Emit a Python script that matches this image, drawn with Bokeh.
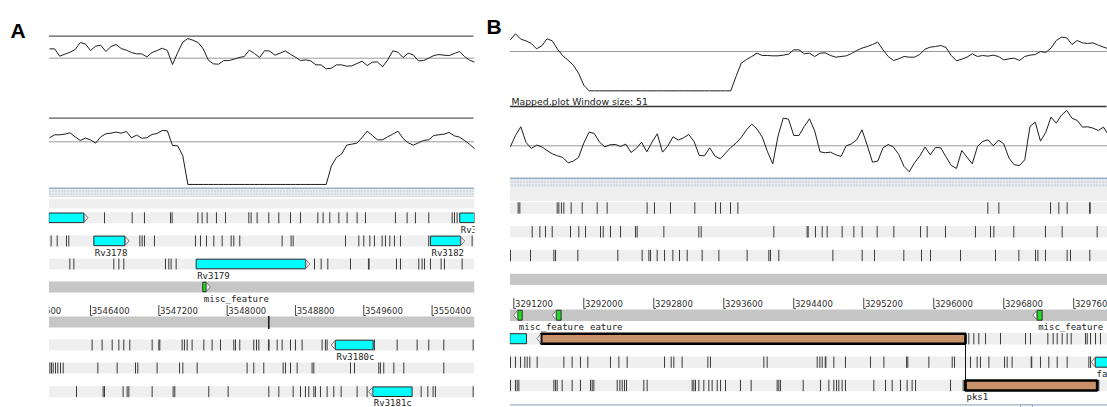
import numpy as np
from bokeh.plotting import figure
from bokeh.models import Range1d
from bokeh.embed import file_html
from bokeh.resources import INLINE
from bokeh.core.properties import value

# ======================= DATA =======================
# ---- Panel A: sliding-window plots (score units), window step 60 bp ----
A_window_start = 3545920
A_window_step = 60
A_gc_score = [28, 28, 6, 12, 18, 26, 47, 43, 23, 36, 39, 20, 35, 41, 29, 24, 17, 13, 13, 4,
              17, 23, 30, 23, -19, 16, 48, 59, 54, 47, 28, -6, -17, -18, -7, -7, -3, 2, 5, 24,
              14, 2, 23, 21, 9, 15, 22, 12, 3, -7, -5, -8, -20, -20, -32, -30, -20, -20, -24, -23,
              -16, -9, -22, -12, -11, -26, -5, 22, 18, 2, 15, 10, -8, -7, 0, 8, 11, 9, 8, 14,
              20, 5, -6, -12]
A_mapped_score = [12, 21, 21, 23, 27, 15, 4, 11, 6, -4, 15, 24, 26, 29, 26, 31, 12, 20, 11, 12,
                  22, 25, 34, 33, -11, -12, -41,
                  -128, -128, -128, -128, -128, -128, -128, -128, -128, -128, -128, -128, -128, -128,
                  -128, -128, -128, -128, -128, -128, -128, -128, -128, -128, -128, -128, -128, -128,
                  -73, -47, -37, -10, -7, -4, 13, 32, 19, 6, 6, 15, 23, 32, 10, -3, -10, -3, 4, 6,
                  19, 21, 23, 28, 18, 14, 4, -8, -21]

# ---- Panel B: sliding-window plots, window step 60 bp ----
B_window_start = 3291160
B_window_step = 60
B_gc_score = [35, 53, 37, 32, 24, 8, 17, 38, 32, 7, -13, -26, -41, -65, -101,
              -118, -118, -118, -118, -118, -118, -118, -118, -118, -118, -118, -118, -118, -118,
              -118, -118, -118, -118, -118, -118, -118, -118, -118, -118, -118, -118, -118, -118,
              -75, -35, -24, -15, -5, -12, -12, -13, -13, -11, -8, 5, 5,
              -7, -5, -15, -5, -4, -12, -17, -15, -13, -6, 3, 10, 15, 21, 28, 5, -15, -27, -22, -15,
              -17, -17, -9, 7, 13, 15, 18, 12, -12, -28, -23, -17, -7, -15, -12, -14, -11, -15, -25, -22,
              -20, -27, -15, -11, -9, 0, -3, 10, 33, 43, 41, 21, 33, 26, 24, 26, 19, 13, 8]
B_mapped_score = [-3, 31, 57, 10, -8, 2, -3, -14, -24, -30, -35, -51, -46, -35, 8, 41, 37, 11, -3, 3,
                  4, -2, 5, -20, -8, 11, -18, 11, 36, -19, -1, 27, 17, 24, 34, 13, -29, -30, -6, -31,
                  -39, -22, -5, 8, 25, 48, 65, 50, 26, -18, -54, 29, 83, 80, 31, 31,
                  58, 81, 44, -18, -21, -19, -27, -32, 0, 6, 18, 48, 1, -49, -46, -6, 4, -4, -26, -62,
                  -78, -51, -31, -4, -27, -5, -6, -33, -59, -68, -14, -34, -54, -2, 13, 18, 0, 17, 6, -37,
                  -57, -59, -42, 58, 71, 14, 40, 86, 68, 92, 106, 83, 76, 56, 57, 53, 46, 56, 31]

# ---- scale ticks ----
A_scale_ticks = [3545600, 3546400, 3547200, 3548000, 3548800, 3549600, 3550400]
B_scale_ticks = [3291200, 3292000, 3292800, 3293600, 3294400, 3295200, 3296000, 3296800, 3297600]

# ---- stop codons per frame ----
A_stops_f1 = [3546564, 3546888, 3547032, 3547337, 3547356, 3547657, 3547707, 3547766, 3547875, 3547981,
              3548254, 3548281, 3548351, 3548488, 3548605, 3548742, 3548859, 3549062, 3549124, 3549202,
              3549308, 3549405, 3549522, 3549620, 3549971, 3550108, 3550205, 3550361, 3550635, 3550662,
              3550693]
A_stops_f2 = [3545939, 3546010, 3546119, 3546146, 3546978, 3547005, 3547032, 3547149, 3547629, 3547688,
              3547758, 3547844, 3547942, 3548047, 3548078, 3548148, 3548644, 3548749, 3548773, 3549386,
              3549542, 3549600, 3549671, 3549725, 3549815, 3549854, 3549905, 3549959, 3550030, 3550361,
              3550869]
A_stops_f3 = [3546158, 3546205, 3546673, 3546732, 3546790, 3547278, 3547317, 3547344, 3547403, 3549023,
              3549101, 3549179, 3549444, 3549655, 3549662, 3549983, 3550030, 3550244, 3550283, 3550311,
              3550381, 3550506, 3550545, 3550752]
A_stops_r1 = [3546419, 3546536, 3546654, 3546732, 3546790, 3546860, 3547122, 3547200, 3547212, 3547473,
              3547500, 3547532, 3547590, 3547727, 3547824, 3547922, 3548078, 3548098, 3548148, 3548312,
              3548344, 3548371, 3548484, 3548491, 3548586, 3548644, 3548742, 3548800, 3548878, 3549112,
              3549151, 3549171, 3549725, 3549991, 3550225, 3550361, 3550537, 3550881]
A_stops_r2 = [3545924, 3545943, 3545963, 3545990, 3546017, 3546049, 3546080, 3546486, 3546712, 3546927,
              3546954, 3547180, 3547442, 3547481, 3547649, 3548234, 3548312, 3548429, 3548656, 3548683,
              3548742, 3548820, 3548995, 3549015, 3549444, 3549491, 3549776, 3549795, 3549834, 3549952,
              3550069, 3550537]
A_stops_r3 = [3546236, 3546548, 3546564, 3546782, 3546829, 3546849, 3547122, 3547368, 3547387, 3547785,
              3548012, 3548488, 3548605, 3548773, 3548859, 3548917, 3548956, 3549015, 3549034, 3549093,
              3549171, 3549249, 3549335, 3549522, 3549639, 3550272, 3550350, 3550412, 3550439, 3550881]
A_marks_rev_strand = [3548486, 3548490]

B_stops_f1 = [3291250, 3291269, 3291696, 3291715, 3291745, 3291772, 3291856, 3291982, 3292153, 3292267,
              3292724, 3292808, 3292991, 3293269, 3293506, 3293563, 3293677, 3293761, 3296618, 3296744,
              3297335, 3297430, 3297525, 3297781, 3297788]
B_stops_f2 = [3291410, 3291498, 3291562, 3291639, 3291848, 3291943, 3292020, 3292191, 3292222, 3292305,
              3292420, 3292591, 3292610, 3292915, 3293315, 3293342, 3294172, 3294553, 3294565, 3294648,
              3294725, 3294782, 3294953, 3295087, 3295182, 3295353, 3295544, 3295849, 3295925, 3296134,
              3296477, 3296649, 3296687, 3296915, 3297277, 3297468, 3297868]
B_stops_f3 = [3291162, 3291391, 3291658, 3291677, 3291932, 3292389, 3292667, 3292744, 3292763, 3292839,
              3292923, 3293018, 3293094, 3293182, 3293353, 3293544, 3293867, 3294115, 3294134, 3294229,
              3294847, 3295182, 3295323, 3295658, 3295860, 3295963, 3296306, 3296706, 3296973, 3297163,
              3297190, 3297277, 3297525, 3297563, 3297784]
B_stops_r1 = [3296401, 3296458, 3296515, 3296592, 3296763, 3297049, 3297106, 3297304, 3297365, 3297411,
              3297468, 3297525, 3297571, 3297735, 3297754, 3297792, 3297849, 3297906]
B_stops_r2 = [3291162, 3291219, 3291277, 3291326, 3291353, 3291383, 3291467, 3291772, 3291867, 3291962,
              3292046, 3292305, 3292401, 3292496, 3292923, 3292999, 3293029, 3293124, 3293418, 3293448,
              3294058, 3294096, 3294668, 3294698, 3294725, 3294760, 3294767, 3294858, 3294991, 3295277,
              3295430, 3295689, 3295704, 3295944, 3296211, 3296237, 3296420, 3296496, 3296534, 3296630,
              3296809, 3296839, 3296896, 3297114, 3297120, 3297220, 3297315, 3297411, 3297525, 3297773,
              3297792]
B_stops_r3 = [3291162, 3291219, 3291239, 3291258, 3291658, 3291677, 3291696, 3291753, 3291867, 3291962,
              3292077, 3292096, 3292115, 3292382, 3292412, 3292439, 3292465, 3292488, 3292686, 3292724,
              3293239, 3293258, 3293277, 3293315, 3293372, 3293429, 3293467, 3293525, 3293563, 3293620,
              3293791, 3293913, 3294210, 3294229, 3294248, 3294508, 3294706, 3294801, 3294858, 3294889,
              3294915, 3294953, 3294991, 3295315, 3295449, 3295525, 3295620, 3295696, 3295753, 3295792,
              3296192, 3296336, 3296352, 3297887]

# ---- features ----
A_feat_name = ["Rv3177", "Rv3183", "Rv3178", "Rv3182", "Rv3179", "misc_feature", "Rv3180c", "Rv3181c"]
A_feat_row = ["f1", "f1", "f2", "f2", "f3", "fs", "r1", "r3"]
A_feat_start = [3545300, 3550724, 3546439, 3550381, 3547637, 3547715, 3549269, 3549706]
A_feat_end = [3546322, 3551300, 3546802, 3550732, 3548917, 3547754, 3549710, 3550166]
A_feat_strand = [1, 1, 1, 1, 1, 1, -1, -1]
A_feat_kind = ["cds", "cds", "cds", "cds", "cds", "misc", "cds", "cds"]
A_feat_labelled = [True, True, True, True, True, True, True, True]

B_feat_name = ["misc_feature", "misc_feature", "misc_feature", "Rv2945c", "pks1", "pks1", "fadD22"]
B_feat_row = ["rs", "rs", "rs", "r1", "r1", "r3", "r2"]
B_feat_start = [3291688, 3291246, 3297182, 3290700, 3291513, 3296363, 3297849]
B_feat_end = [3291741, 3291296, 3297239, 3291345, 3296363, 3297868, 3299000]
B_feat_strand = [-1, -1, -1, -1, -1, 0, -1]
B_feat_kind = ["misc", "misc", "misc", "cds", "pks", "pks", "cds"]
B_feat_labelled = [True, True, True, True, False, True, True]
B_join_pos = [3296363]

# ======================= LAYOUT =======================
W, H = 1107, 407
PANELS = {
    "A": dict(x0=48.3, x1=474.0, ref_px=90.0, ref_bp=3546400, bpp=11.71, row_h=11.0,
              rows=dict(f1=211.8, f2=234.9, f3=258.0, fs=281.0, rs=316.0, r1=339.0, r2=362.0, r3=385.7),
              scale_y=310.0, bar=(304.5, 315.0), sep=187.7, grey=(198.5, 208.0)),
    "B": dict(x0=509.3, x1=1107.0, ref_px=513.3, ref_bp=3291200, bpp=11.43, row_h=11.4,
              rows=dict(f1=201.8, f2=225.6, f3=249.3, fs=273.2, rs=309.0, r1=332.5, r2=356.0, r3=379.3),
              scale_y=303.3, bar=(297.5, 308.0), sep=177.7, grey=(186.0, 200.5)),
}

def bp_at(pk, px):
    g = PANELS[pk]
    return g["ref_bp"] + (px - g["ref_px"]) * g["bpp"]

def window(pk):
    return bp_at(pk, PANELS[pk]["x0"]), bp_at(pk, PANELS[pk]["x1"])

def vrange(mid, upp=3.0):
    return Range1d((mid - H) * upp, mid * upp)

p = figure(width=W, height=H, x_range=Range1d(0, W), y_range=Range1d(H, 0),
           output_backend="svg", toolbar_location=None, min_border=0,
           x_axis_location=None, y_axis_location=None,
           background_fill_color="white", border_fill_color="white")
p.grid.visible = False
p.outline_line_color = None
p.extra_x_ranges = {pk: Range1d(bp_at(pk, 0), bp_at(pk, W)) for pk in PANELS}
p.extra_y_ranges = {"a1": vrange(57.7), "a2": vrange(141.3), "b1": vrange(51.0), "b2": vrange(145.3)}

TICK = "#3a3a3a"
CURVE = "#1e1e1e"

# ---- curve tracks ----
tracks = [
    ("A", "a1", A_window_start, A_window_step, A_gc_score, 57.7, 35.7, "#5a5a5a"),
    ("A", "a2", A_window_start, A_window_step, A_mapped_score, 141.3, 117.7, "#5a5a5a"),
    ("B", "b1", B_window_start, B_window_step, B_gc_score, 51.0, None, None),
    ("B", "b2", B_window_start, B_window_step, B_mapped_score, 145.3, 106.0, "#333333"),
]
for pk, yr, st, step, vals, mid, topline, tcol in tracks:
    g = PANELS[pk]
    if topline is not None:
        p.segment(x0=[g["x0"]], x1=[g["x1"] - 1], y0=[topline], y1=[topline], line_color=tcol, line_width=1.3)
    p.segment(x0=[g["x0"]], x1=[g["x1"]], y0=[mid], y1=[mid], line_color="#9a9a9a", line_width=1)
    pos = st + step * np.arange(len(vals))
    p.line(x=pos, y=vals, x_range_name=pk, y_range_name=yr, line_color=CURVE, line_width=1.0)

p.text(x=[511], y=[101], text=["Mapped.plot  Window size: 51"], text_font=value("DejaVu Sans"),
       text_font_size="9.3px", text_color="#222222", text_baseline="middle", text_align="left")

# ---- separators and bands ----
for pk, g in PANELS.items():
    x0, x1 = g["x0"], g["x1"]
    s = g["sep"]
    p.quad(left=[x0], right=[x1], top=[s + 0.8], bottom=[s + 8.0], fill_color="#e9ecef",
           hatch_pattern="dot", hatch_color="#b9c3cd", hatch_scale=3, line_color=None)
    p.segment(x0=[x0], x1=[x1], y0=[s], y1=[s], line_color="#9cb0c5", line_width=1.6)
    p.segment(x0=[x0], x1=[x1], y0=[s + 8.5], y1=[s + 8.5], line_color="#d2d8de", line_width=1)
    gy = g["grey"]
    p.quad(left=[x0], right=[x1], top=[gy[0]], bottom=[gy[1]], fill_color="#eeeeee", line_color=None)
    for r, top in g["rows"].items():
        col = "#c6c6c6" if r in ("fs", "rs") else "#efefef"
        p.quad(left=[x0], right=[x1], top=[top], bottom=[top + g["row_h"]], fill_color=col, line_color=None)

# ---- stop codons ----
stop_sets = [("A", "f1", A_stops_f1), ("A", "f2", A_stops_f2), ("A", "f3", A_stops_f3),
             ("A", "r1", A_stops_r1), ("A", "r2", A_stops_r2), ("A", "r3", A_stops_r3),
             ("B", "f1", B_stops_f1), ("B", "f2", B_stops_f2), ("B", "f3", B_stops_f3),
             ("B", "r1", B_stops_r1), ("B", "r2", B_stops_r2), ("B", "r3", B_stops_r3)]
for pk, r, stops in stop_sets:
    g = PANELS[pk]
    w0, w1 = window(pk)
    xs = [q for q in stops if w0 <= q <= w1]
    top = g["rows"][r]
    p.segment(x0=xs, x1=xs, y0=top, y1=top + g["row_h"], x_range_name=pk, line_color=TICK, line_width=1)

gA = PANELS["A"]
p.segment(x0=A_marks_rev_strand, x1=A_marks_rev_strand, y0=gA["rows"]["rs"] - 0.5,
          y1=gA["rows"]["rs"] + gA["row_h"] + 1.5, x_range_name="A", line_color="#111111", line_width=1)

# ---- scale ----
for pk, ticks in (("A", A_scale_ticks), ("B", B_scale_ticks)):
    g = PANELS[pk]
    w0, w1 = window(pk)
    tk = [t for t in ticks if (pk == "A" or t >= w0)]
    b0, b1 = g["bar"]
    p.segment(x0=tk, x1=tk, y0=b0, y1=b1, x_range_name=pk, line_color="#444444", line_width=1)
    p.segment(x0=tk, x1=[t + 2 * g["bpp"] for t in tk], y0=b1, y1=b1, x_range_name=pk,
              line_color="#444444", line_width=1)
    p.text(x=[t + 1.2 * g["bpp"] for t in tk], y=g["scale_y"], text=[str(t) for t in tk],
           x_range_name=pk, text_font=value("DejaVu Sans"), text_font_size="8.5px",
           text_color="#303030", text_baseline="middle", text_align="left")

# ---- features ----
STYLE = {
    "cds": dict(fill_color="#00ffff", line_color="#2a2a2a", line_width=1),
    "misc": dict(fill_color="#22dd22", line_color="#2a2a2a", line_width=1),
    "pks": dict(fill_color="#c9926a", line_color="#000000", line_width=2.6),
}
feature_sets = [
    ("A", A_feat_name, A_feat_row, A_feat_start, A_feat_end, A_feat_strand, A_feat_kind, A_feat_labelled),
    ("B", B_feat_name, B_feat_row, B_feat_start, B_feat_end, B_feat_strand, B_feat_kind, B_feat_labelled),
]
for pk, names, rows, starts, ends, strands, kinds, labelled in feature_sets:
    g = PANELS[pk]
    w0, w1 = window(pk)
    bpp = g["bpp"]
    h = g["row_h"]
    for n, r, s, e, st, k, lab in zip(names, rows, starts, ends, strands, kinds, labelled):
        top = g["rows"][r]
        bot = top + h
        l, rr = max(s, w0), min(e, w1)
        if rr <= l:
            continue
        p.quad(left=[l], right=[rr], top=[top + 0.7], bottom=[bot - 0.7], x_range_name=pk, **STYLE[k])
        mid = top + h / 2
        if st == 1 and e + 4 * bpp <= w1:
            p.patch(x=[e + 0.5 * bpp, e + 4.2 * bpp, e + 0.5 * bpp], y=[top + 1.2, mid, bot - 1.2],
                    x_range_name=pk, fill_color="#f6f6f6", line_color="#7a7a7a", line_width=1)
        if st == -1 and s - 4 * bpp >= w0:
            p.patch(x=[s - 0.5 * bpp, s - 4.2 * bpp, s - 0.5 * bpp], y=[top + 1.2, mid, bot - 1.2],
                    x_range_name=pk, fill_color="#f6f6f6", line_color="#7a7a7a", line_width=1)
        if lab and s >= w0:
            p.text(x=[s + 1.0 * bpp], y=[bot + 6.2], text=[n], x_range_name=pk,
                   text_font=value("DejaVu Sans Mono"), text_font_size="9px", text_color="#222222",
                   text_baseline="middle", text_align="left",
                   background_fill_color="white", padding=(0, 6, 0, 0))

gB = PANELS["B"]
p.segment(x0=B_join_pos, x1=B_join_pos, y0=gB["rows"]["r1"] + gB["row_h"], y1=gB["rows"]["r3"],
          x_range_name="B", line_color="#111111", line_width=1)

# bottom border of panel B
p.segment(x0=[gB["x0"]], x1=[gB["x1"]], y0=[404.3], y1=[404.3], line_color="#9cb0c5", line_width=1.2)
p.quad(left=[1020], right=[1032], top=[404.3], bottom=[410], fill_color="#f2f5f8", line_color="#8fa6bf")

# ---- masks outside panel windows ----
p.quad(left=[0], right=[gA["x0"]], top=[0], bottom=[H], fill_color="white", line_color=None)
p.quad(left=[gA["x1"]], right=[gB["x0"]], top=[0], bottom=[H], fill_color="white", line_color=None)

# ---- panel letters ----
p.text(x=[10, 486], y=[30.0, 26.0], text=["A", "B"], text_font=value("Liberation Sans"),
       text_font_style="bold", text_font_size="21px", text_color="#000000",
       text_baseline="middle", text_align="left")

open("out.html", "w").write(file_html(p, INLINE))
